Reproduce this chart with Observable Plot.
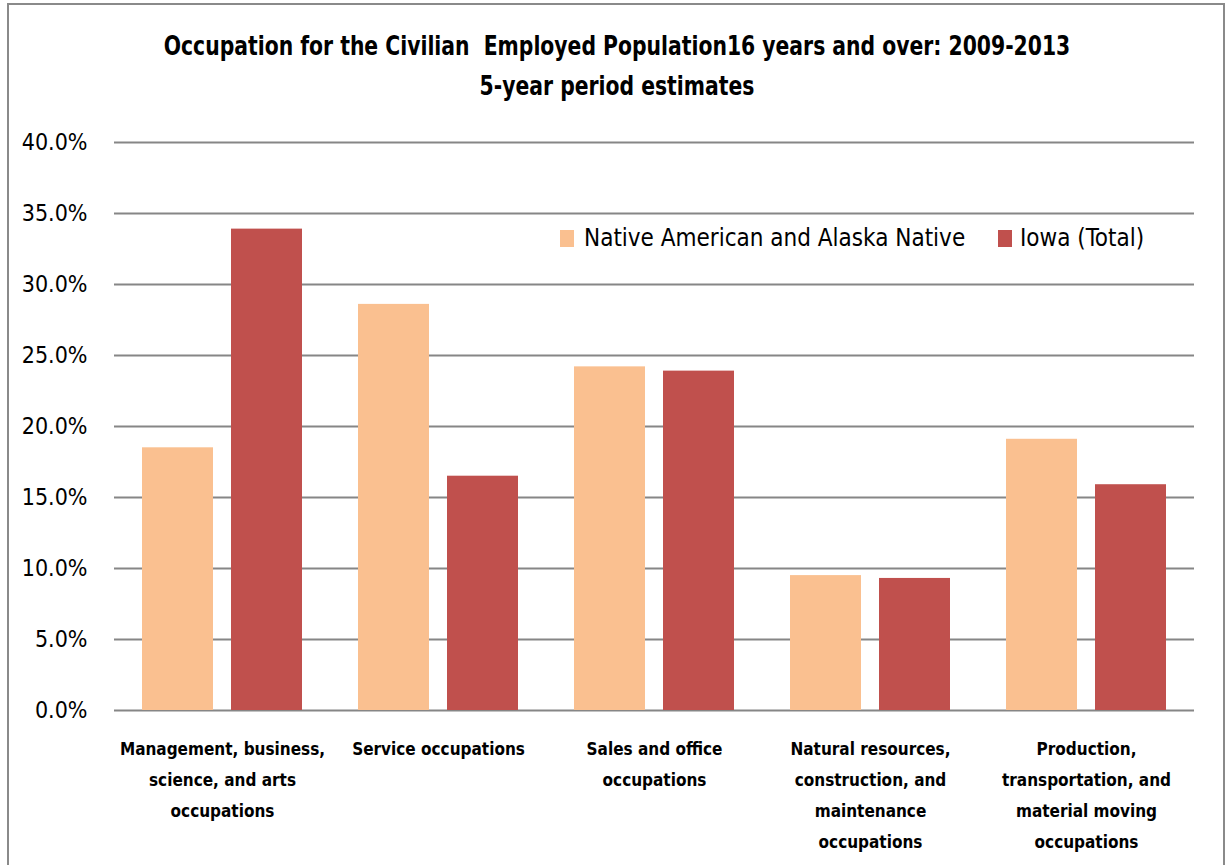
<!DOCTYPE html>
<html>
<head>
<meta charset="utf-8">
<script src="https://cdn.jsdelivr.net/npm/d3@7"></script>
<script src="https://cdn.jsdelivr.net/npm/@observablehq/plot@0.6"></script>
<style>
  html, body { margin: 0; padding: 0; background: #fff; }
  body { width: 1230px; height: 865px; position: relative; overflow: hidden;
         font-family: "Liberation Sans Narrow", "DejaVu Sans Condensed", "Open Sans", sans-serif; }
  #frame { position: absolute; left: 7px; top: 3px; width: 1218px; height: 900px;
           border: 2px solid #8a8a8a; border-bottom: none; box-sizing: border-box; }
  .title { position: absolute; left: 0; width: 1234px; text-align: center; font-weight: bold;
           font-size: 26px; color: #000; white-space: pre; transform: scaleX(0.87); transform-origin: 617px 0; }
  #chart { position: absolute; left: 0; top: 0; }
  .legend { position: absolute; top: 224px; font-size: 24px; color: #000; white-space: pre; }
  .sw { position: absolute; width: 14px; height: 17px; top: 230px; }
</style>
</head>
<body>
<div id="frame"></div>
<div id="chart"></div>
<div class="title" style="top:31px">Occupation for the Civilian  Employed Population16 years and over: 2009-2013</div>
<div class="title" style="top:71px">5-year period estimates</div>
<div id="legend"></div>
<script>
const categories = [
  "Management, business, science, and arts occupations",
  "Service occupations",
  "Sales and office occupations",
  "Natural resources, construction, and maintenance occupations",
  "Production, transportation, and material moving occupations"
];
const categoryLabels = [
  "Management, business,\nscience, and arts\noccupations",
  "Service occupations",
  "Sales and office\noccupations",
  "Natural resources,\nconstruction, and\nmaintenance\noccupations",
  "Production,\ntransportation, and\nmaterial moving\noccupations"
];
const series = ["Native American and Alaska Native", "Iowa (Total)"];
const nativeValues = [18.5, 28.6, 24.2, 9.5, 19.1];
const iowaValues = [33.9, 16.5, 23.9, 9.3, 15.9];
const yTicks = [0, 5, 10, 15, 20, 25, 30, 35, 40];
const colors = ["#FAC090", "#C0504D"];

const data = [];
categories.forEach((c, i) => {
  data.push({category: c, series: series[0], value: nativeValues[i]});
  data.push({category: c, series: series[1], value: iowaValues[i]});
});

const fontFam = '"Liberation Sans Narrow", "DejaVu Sans Condensed", "Open Sans", sans-serif';

const chart = Plot.plot({
  width: 1230,
  height: 865,
  marginLeft: 112,
  marginRight: 34,
  marginTop: 142,
  marginBottom: 155,
  style: {fontFamily: fontFam, background: "transparent", color: "#000"},
  fx: {domain: categories, padding: 0, label: null},
  x: {domain: series, paddingInner: 0.2, paddingOuter: 0.311, axis: null},
  y: {domain: [0, 40], label: null},
  color: {domain: series, range: colors},
  marks: [
    Plot.gridY(yTicks, {stroke: "#868686", strokeOpacity: 1, strokeWidth: 2}),
    Plot.barY(data, {fx: "category", x: "series", y: "value", fill: "series"}),
    Plot.axisY(yTicks, {tickSize: 0, tickPadding: 27, tickFormat: d => d.toFixed(1) + "%",
      fontSize: 23, label: null, fill: "#000"}),
    Plot.axisFx({anchor: "bottom", tickSize: 0, tickPadding: 23,
      tickFormat: d => categoryLabels[categories.indexOf(d)],
      fontSize: 17, fontWeight: "bold", lineHeight: 1.82, label: null, fill: "#000"})
  ]
});
document.getElementById("chart").appendChild(chart);

// legend
const leg = document.getElementById("legend");
const legPos = [[560, 584], [998, 1020]];
series.forEach((s, i) => {
  const sw = document.createElement("div");
  sw.className = "sw";
  sw.style.left = legPos[i][0] + "px";
  sw.style.background = colors[i];
  leg.appendChild(sw);
  const t = document.createElement("div");
  t.className = "legend";
  t.style.left = legPos[i][1] + "px";
  t.textContent = s;
  leg.appendChild(t);
});
</script>
</body>
</html>
